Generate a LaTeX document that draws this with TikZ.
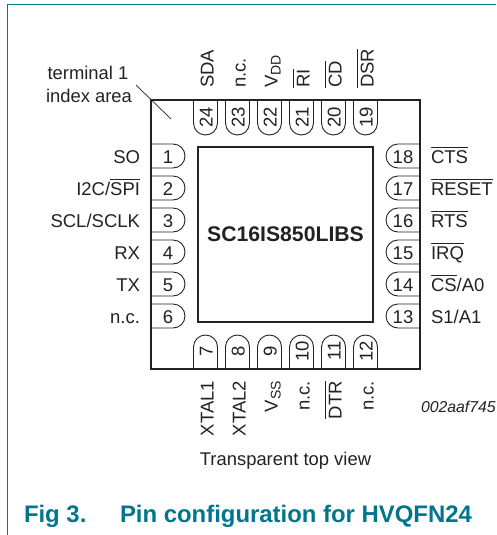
\documentclass[tikz,border=0pt]{standalone}
\usepackage{fontspec}
\setmainfont{Liberation Sans}
\definecolor{teal}{HTML}{00768D}
\definecolor{ink}{HTML}{222222}
\newcommand{\ob}[1]{\leavevmode\vbox{\hrule height 0.9pt\kern 2.4pt\hbox{#1}}}
\newcommand{\subs}[1]{\raisebox{-3pt}{\fontsize{14}{16}\selectfont #1}}
\tikzset{
  x=1pt,y=-1pt,
  every node/.style={inner sep=0pt,outer sep=0pt,text=ink},
  lab/.style={font=\fontsize{18.5}{22}\selectfont},
  num/.style={font=\fontsize{18.5}{22}\selectfont},
  small/.style={font=\fontsize{18.4}{22}\selectfont},
  pinshape/.style={draw=ink,line width=0.9pt,fill=white},
  frameline/.style={draw=teal,line width=1pt},
}
\begin{document}
\begin{tikzpicture}
\useasboundingbox (0,0) rectangle (496,535);
\draw[frameline] (7.5,535) -- (7.5,4.5) -- (496,4.5);
% pins
\foreach \n/\y in {1/156,2/188,3/220,4/252,5/284,6/316}{
  \draw[pinshape] (151,\y-12) -- (173,\y-12) .. controls (179.6,\y-12) and (185,\y-6.6) .. (185,\y) .. controls (185,\y+6.6) and (179.6,\y+12) .. (173,\y+12) -- (151,\y+12);
  \node[num,anchor=base] (p\n) at (168,\y+7) {\n};
}
\foreach \n/\y in {18/156,17/188,16/220,15/252,14/284,13/316}{
  \draw[pinshape] (420,\y-12) -- (398,\y-12) .. controls (391.4,\y-12) and (386,\y-6.6) .. (386,\y) .. controls (386,\y+6.6) and (391.4,\y+12) .. (398,\y+12) -- (420,\y+12);
  \node[num,anchor=base] (p\n) at (403,\y+7) {\n};
}
\foreach \n/\x in {24/205.5,23/237.5,22/269.5,21/301.5,20/333.5,19/365.5}{
  \draw[pinshape] (\x-12,100) -- (\x-12,123) .. controls (\x-12,129.6) and (\x-6.6,135) .. (\x,135) .. controls (\x+6.6,135) and (\x+12,129.6) .. (\x+12,123) -- (\x+12,100);
  \node[num,rotate=90,anchor=base] (p\n) at (\x+7,117) {\n};
}
\foreach \n/\x in {7/205.5,8/237.5,9/269.5,10/301.5,11/333.5,12/365.5}{
  \draw[pinshape] (\x-12,369) -- (\x-12,347) .. controls (\x-12,340.4) and (\x-6.6,335) .. (\x,335) .. controls (\x+6.6,335) and (\x+12,340.4) .. (\x+12,347) -- (\x+12,369);
  \node[num,rotate=90,anchor=base] (p\n) at (\x+7,351) {\n};
}
% package
\node[draw=ink,line width=2.6pt,minimum width=269pt,minimum height=269pt,anchor=north west] (pkg) at (151,100) {};
\node[draw=ink,line width=1.1pt,minimum width=175pt,minimum height=175pt,anchor=north west] (die) at (198,147) {};
\node[anchor=base,font=\bfseries\fontsize{21.2}{24}\selectfont] (name) at (285.5,241) {SC16IS850LIBS};
% left labels
\foreach \t/\y in {SO/156,{I2C/\ob{SPI}}/188,{SCL/SCLK}/220,RX/252,TX/284,n.c./316}{
  \node[lab,anchor=base east] at (140,\y+7) {\t};
}
% right labels
\foreach \t/\y in {\ob{CTS}/156,\ob{RESET}/188,\ob{RTS}/220,\ob{IRQ}/252,{\ob{CS}/A0}/284,{S1/A1}/316}{
  \node[lab,anchor=base west] at (431,\y+7) {\t};
}
% top labels
\foreach \t/\x in {SDA/205.5,n.c./237.5,V\subs{DD}/269.5,\ob{RI}/301.5,\ob{CD}/333.5,\ob{DSR}/365.5}{
  \node[lab,rotate=90,anchor=base west] at (\x+8,88) {\t};
}
% bottom labels
\foreach \t/\x in {XTAL1/205.5,XTAL2/237.5,V\subs{SS}/269.5,n.c./301.5,\ob{DTR}/333.5,n.c./365.5}{
  \node[lab,rotate=90,anchor=base east] at (\x+8,381) {\t};
}
% terminal 1
\node[small,anchor=base] (t1a) at (88,79) {terminal 1};
\node[small,anchor=base] (t1b) at (89,102) {index area};
\coordinate (leadA) at (136,85);
\coordinate (leadB) at (171,119);
\draw[ink,line width=0.7pt] (leadA) -- (leadB);
\node[anchor=base west,font=\itshape\fontsize{15.8}{18}\selectfont] (code) at (421,412) {002aaf745};
\node[small,anchor=base] (view) at (285.5,465) {Transparent top view};
\node[anchor=base west,text=teal,font=\bfseries\fontsize{23.9}{26}\selectfont] (figno) at (24,522) {Fig 3.};
\node[anchor=base west,text=teal,font=\bfseries\fontsize{23.9}{26}\selectfont] (figt) at (120,522) {Pin configuration for HVQFN24};
\end{tikzpicture}
\end{document}
